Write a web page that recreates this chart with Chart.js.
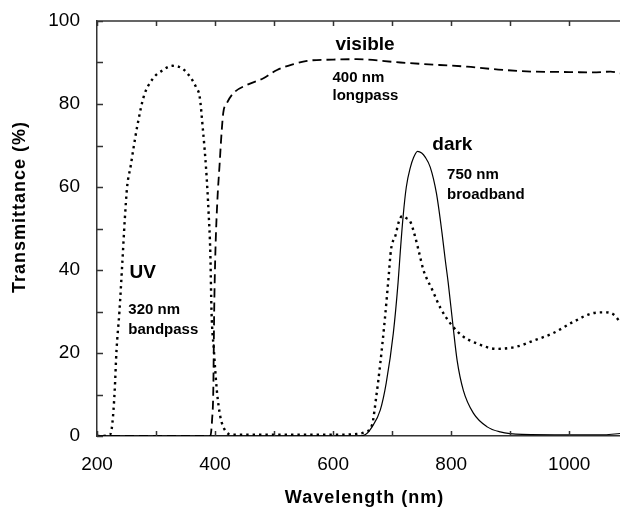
<!DOCTYPE html>
<html>
<head>
<meta charset="utf-8">
<script src="https://cdn.jsdelivr.net/npm/chart.js@4.4.1/dist/chart.umd.min.js"></script>
<style>
  html, body { margin: 0; padding: 0; background: #fff; }
  #wrap { width: 620px; height: 508px; }
</style>
</head>
<body>
<div id="wrap"><canvas id="filterChart" width="620" height="508"></canvas></div>
<script>
// Filter transmittance curves

// 320 nm bandpass (dotted), with its near-IR leak
const uvNm = [200, 222, 226, 230, 233, 238, 243, 247, 251, 257, 262, 268, 279, 294, 310, 328, 345, 358, 368, 374, 379, 385, 389, 392, 394, 398, 403, 409, 414, 420, 428, 450, 500, 550, 600, 640, 655, 666, 673, 680, 688, 694, 698, 706, 711, 717, 724, 731, 739, 746, 753, 768, 782, 801, 820, 840, 877, 910, 940, 973, 1007, 1040, 1061, 1075, 1086];
const uvT  = [0, 0.3, 3, 11, 20.5, 30, 42, 52, 60, 65, 69.5, 74.5, 81.7, 86, 88, 89.2, 88.5, 86.5, 84, 81.7, 74.5, 64, 54, 44, 30, 20.7, 11, 4.6, 2.2, 0.8, 0.3, 0.3, 0.3, 0.3, 0.3, 0.5, 1, 2.7, 9.4, 17.6, 28.7, 38.3, 44.8, 48.5, 51.5, 53, 52.5, 51.6, 48, 44, 40, 35.2, 30.8, 26.7, 24, 22.5, 21, 21.5, 23, 24.8, 27.5, 29.6, 29.8, 29.3, 27.5];

// 400 nm longpass (dashed)
const visNm = [200, 392, 395, 397, 398.5, 400.5, 404, 407.5, 411, 414, 420, 431, 454, 482, 505, 533, 556, 600, 640, 714, 780, 827, 880, 939, 1000, 1040, 1070, 1086];
const visT  = [0, 0, 4, 11, 30, 44, 57, 65, 73, 78, 80.2, 82.6, 84.6, 86.2, 88.2, 89.6, 90.4, 90.7, 90.8, 90, 89.4, 89, 88.3, 87.8, 87.7, 87.6, 87.8, 87.4];

// 750 nm broadband (solid)
const darkNm = [200, 640, 654, 666, 680, 690, 702, 710, 714, 718.5, 724, 731, 736, 743, 750, 756, 764.5, 775, 784.5, 790, 795, 803, 810, 820.6, 837.6, 861, 883, 920, 1000, 1060, 1086];
const darkT  = [0, 0, 0.3, 2.2, 6.3, 12.8, 24.8, 36.9, 44.8, 52.8, 60, 64.8, 67, 68.6, 68.2, 67.2, 64.8, 58.5, 48.9, 42.4, 36.9, 26.7, 18.3, 11, 5.5, 2.2, 1, 0.4, 0.3, 0.3, 0.6];

// axis ticks
const xTicks = [200, 400, 600, 800, 1000];
const xMinor = [200, 300, 400, 500, 600, 700, 800, 900, 1000];
const yTicks = [0, 20, 40, 60, 80, 100];
const yMinor = [0, 10, 20, 30, 40, 50, 60, 70, 80, 90, 100];

// curve labels: [text, wavelength, transmittance, big]
const curveLabels = [
    ['visible', 604, 93.0, true],
    ['400 nm', 599, 85.3, false],
    ['longpass', 599, 81.0, false],
    ['dark', 768, 68.9, true],
    ['750 nm', 793, 61.9, false],
    ['broadband', 793, 57.1, false],
    ['UV', 255, 38.1, true],
    ['320 nm', 253, 29.4, false],
    ['bandpass', 253, 24.6, false]
];

const FONT = "'Liberation Sans', Arial, sans-serif";

function toPoints(xs, ys) {
    return xs.map((v, i) => ({ x: v, y: ys[i] }));
}

// draws the top frame line, inward ticks, axis titles and curve labels
const framePlugin = {
    id: 'framePlugin',
    afterDraw(chart) {
        const { ctx, chartArea: a, scales: { x, y } } = chart;
        ctx.save();
        ctx.strokeStyle = '#333';
        ctx.lineWidth = 1.5;
        ctx.beginPath();
        ctx.moveTo(a.left, a.top);
        ctx.lineTo(a.right, a.top);
        xMinor.forEach(v => {
            const px = Math.round(x.getPixelForValue(v)) + 0.5;
            ctx.moveTo(px, a.top);
            ctx.lineTo(px, a.top + 5);
            ctx.moveTo(px, a.bottom);
            ctx.lineTo(px, a.bottom - 5);
        });
        yMinor.forEach(v => {
            const py = Math.round(y.getPixelForValue(v)) + 0.5;
            ctx.moveTo(a.left, py);
            ctx.lineTo(a.left + 6, py);
        });
        ctx.stroke();

        ctx.fillStyle = '#000';
        ctx.textAlign = 'left';
        ctx.textBaseline = 'alphabetic';
        curveLabels.forEach(([text, nm, t, big]) => {
            ctx.font = (big ? 'bold 19px ' : 'bold 15px ') + FONT;
            ctx.fillText(text, x.getPixelForValue(nm), y.getPixelForValue(t));
        });

        // axis titles
        ctx.font = 'bold 18px ' + FONT;
        ctx.letterSpacing = '1px';
        ctx.textAlign = 'center';
        ctx.textBaseline = 'middle';
        ctx.fillText('Wavelength (nm)', (a.left + a.right) / 2 + 6, chart.height - 10);
        ctx.translate(20, 207);
        ctx.rotate(-Math.PI / 2);
        ctx.fillText('Transmittance (%)', 0, 0);
        ctx.restore();
    }
};

function initializeFilterChart() {
    const canvas = document.getElementById('filterChart');
    if (!canvas) {
        console.error('Chart canvas not found');
        return;
    }

    const lineDefaults = {
        borderColor: '#000',
        backgroundColor: '#000',
        pointRadius: 0,
        fill: false,
        cubicInterpolationMode: 'monotone'
    };

    return new Chart(canvas.getContext('2d'), {
        type: 'line',
        data: {
            datasets: [
                Object.assign({ label: '320 nm bandpass', data: toPoints(uvNm, uvT), borderWidth: 2.4, borderDash: [2.4, 4] }, lineDefaults),
                Object.assign({ label: '400 nm longpass', data: toPoints(visNm, visT), borderWidth: 1.8, borderDash: [9, 5] }, lineDefaults),
                Object.assign({ label: '750 nm broadband', data: toPoints(darkNm, darkT), borderWidth: 1.2 }, lineDefaults)
            ]
        },
        options: {
            responsive: false,
            animation: false,
            layout: { padding: { top: 21, right: 0, left: 0, bottom: 0 } },
            plugins: {
                legend: { display: false },
                tooltip: { enabled: false }
            },
            scales: {
                x: {
                    type: 'linear',
                    min: 200,
                    max: 1086,
                    grid: { display: false },
                    border: { color: '#333', width: 1.5 },
                    afterBuildTicks: scale => { scale.ticks = xTicks.map(v => ({ value: v })); },
                    afterFit: scale => { scale.height = 72; },
                    ticks: {
                        color: '#000',
                        padding: 9,
                        maxRotation: 0,
                        font: { family: FONT, size: 19 },
                        callback: value => String(value)
                    }
                },
                y: {
                    min: 0,
                    max: 100,
                    grid: { display: false },
                    border: { color: '#333', width: 1.5 },
                    afterBuildTicks: scale => { scale.ticks = yTicks.map(v => ({ value: v })); },
                    afterFit: scale => { scale.width = 97; },
                    ticks: {
                        color: '#000',
                        padding: 9,
                        font: { family: FONT, size: 19 },
                        callback: value => String(value)
                    }
                }
            }
        },
        plugins: [framePlugin]
    });
}

initializeFilterChart();
</script>
</body>
</html>
